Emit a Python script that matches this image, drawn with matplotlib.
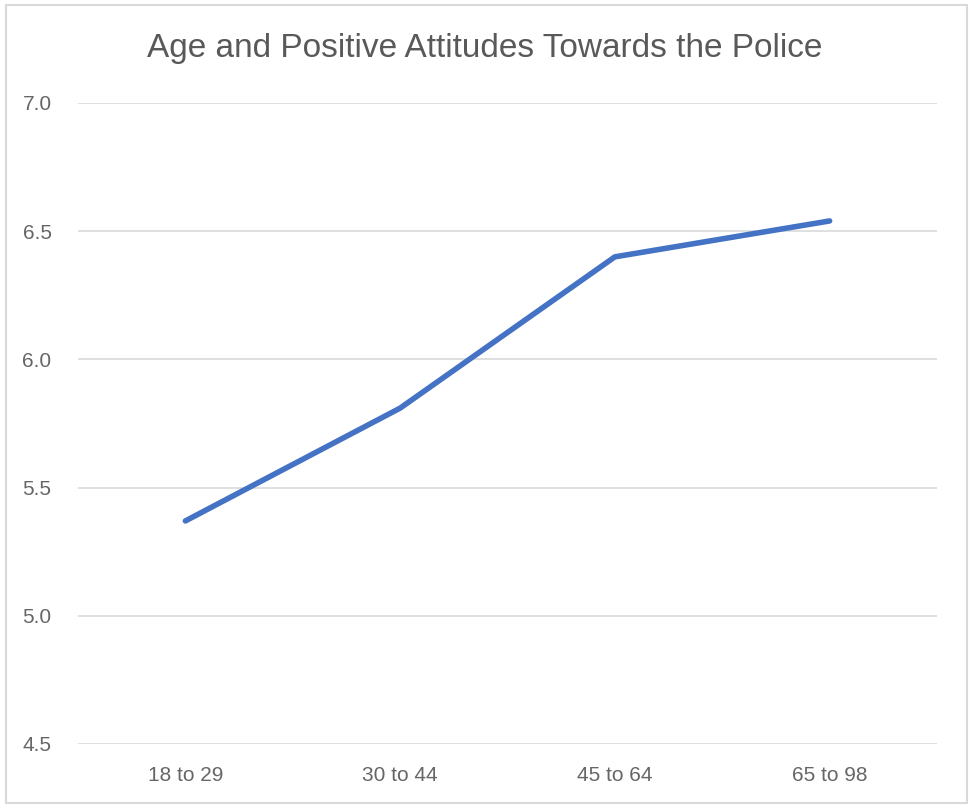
import matplotlib
matplotlib.use('Agg')
import matplotlib.pyplot as plt
from matplotlib.patches import Rectangle

# data
age_groups = ['18 to 29', '30 to 44', '45 to 64', '65 to 98']
attitude = [5.37, 5.81, 6.40, 6.54]
y_ticks = [4.5, 5.0, 5.5, 6.0, 6.5, 7.0]

plt.rcParams['font.family'] = ['Liberation Sans', 'DejaVu Sans']

W, H = 969, 806
fig = plt.figure(figsize=(W / 100, H / 100), dpi=100)
ax = fig.add_axes([78 / W, 62 / H, (937 - 78) / W, (744 - 103) / H])

x = range(len(age_groups))
ax.plot(x, attitude, color='#4472C4', linewidth=4, solid_capstyle='round', zorder=3)

ax.set_xlim(-0.5, len(age_groups) - 0.5)
ax.set_ylim(4.5, 7.0)
ax.set_yticks(y_ticks)
ax.set_yticklabels([f'{v:.1f}' for v in y_ticks])
ax.set_xticks(list(x))
ax.set_xticklabels(age_groups)
ax.grid(axis='y', color='#D9D9D9', linewidth=1.2)
ax.set_axisbelow(True)
for s in ax.spines.values():
    s.set_visible(False)
ax.tick_params(length=0, labelsize=15, colors='#666666')
ax.tick_params(axis='y', pad=19)
ax.tick_params(axis='x', pad=16)

fig.text(0.5, 1 - 48 / H, 'Age and Positive Attitudes Towards the Police',
         ha='center', va='center', fontsize=24, color='#595959')

# chart border
fig.patches.append(Rectangle((6 / W, 3 / H), (967 - 6) / W, (803 - 5) / H, transform=fig.transFigure,
                             fill=False, edgecolor='#D9D9D9', linewidth=1.5))

fig.savefig('out.png', dpi=100)
